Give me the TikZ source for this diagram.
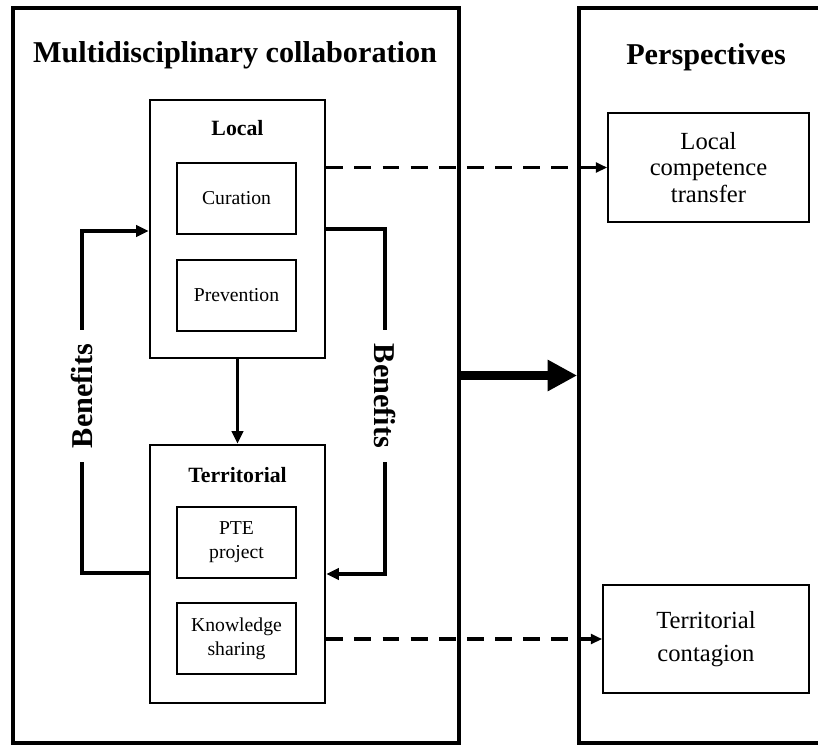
\documentclass[tikz,border=0pt]{standalone}
\usepackage{fontspec}
\setmainfont{Liberation Serif}
\usetikzlibrary{arrows.meta}

\begin{document}
\begin{tikzpicture}[x=0.025cm,y=-0.025cm]
        %
        % `outer' is used for the two big frames.
        % `level' is used for the Local and Territorial boxes.
        % `item' is used for the small boxes inside them.
        \tikzstyle{outer} = [draw,line width=2.6pt,minimum width=11.15cm,minimum height=18.375cm,inner sep=0pt]
        \tikzstyle{level} = [draw,line width=1.8pt,minimum width=4.375cm,minimum height=6.45cm,inner sep=0pt]
        \tikzstyle{item} = [draw,line width=1.2pt,minimum width=2.975cm,minimum height=1.775cm,align=center,
                            font=\fontsize{14}{17}\selectfont,inner sep=0pt]
        \tikzstyle{persp} = [draw,line width=1.2pt,align=center,inner sep=0pt]
        \tikzstyle{heading} = [font=\fontsize{21.5}{24}\selectfont\bfseries]
        \tikzstyle{subheading} = [font=\fontsize{15.5}{18}\selectfont\bfseries]
        \tikzstyle{flow} = [line width=2.5pt,-{Triangle[length=9pt,width=8pt]}]
        \tikzstyle{dashflow} = [line width=2.5pt,dash pattern=on 12pt off 8pt,-{Triangle[length=8pt,width=7pt]}]
        \tikzstyle{benefit} = [fill=white,font=\fontsize{21.5}{24}\selectfont\bfseries,inner sep=10pt]
        %
        \useasboundingbox (0,0) rectangle (818,746);
        %
        % Frames
        \node[outer] (multi) at (236,375.5) {};
        \node[outer,minimum width=6.35cm] (frame) at (706,375.5) {};
        \node[heading] (title1) at (235,55) {Multidisciplinary collaboration};
        \node[heading] (title2) at (706,57) {Perspectives};
        %
        % Local
        \node[level] (loc) at (237.5,229) {};
        \node[subheading] (loctitle) at (237.5,128) {Local};
        \node[item] (cur) at (236.5,198.5) {Curation};
        \node[item] (prev) at (236.5,295.5) {Prevention};
        %
        % Territorial
        \node[level] (terr) at (237.5,574) {};
        \node[subheading] (terrtitle) at (237.5,475) {Territorial};
        \node[item] (pte) at (236.5,542.5) {PTE\\project};
        \node[item] (know) at (236.5,638.5) {Knowledge\\sharing};
        \draw[flow] (loc.south) -- (terr.north);
        %
        % Perspectives
        \node[persp,minimum width=5.025cm,minimum height=2.725cm,font=\fontsize{17.5}{19}\selectfont]
            (comp) at (708.5,167.5) {Local\\competence\\transfer};
        \node[persp,minimum width=5.15cm,minimum height=2.7cm,font=\fontsize{17.5}{23.5}\selectfont]
            (cont) at (706,639) {Territorial\\contagion};
        %
        % Benefits loops
        \coordinate (lbot) at (82,573);
        \coordinate (ltop) at (82,231);
        \draw[flow] (terr.west |- lbot) -- (lbot) -- (ltop) -- (loc.west |- ltop);
        \node[benefit,rotate=90] (ben1) at (82,396) {Benefits};
        \coordinate (rtop) at (385,229);
        \coordinate (rbot) at (385,574);
        \draw[flow] (loc.east |- rtop) -- (rtop) -- (rbot) -- (terr.east |- rbot);
        \node[benefit,rotate=-90] (ben2) at (385,396) {Benefits};
        %
        % Dashed arrows
        \draw[dashflow] (loc.east |- comp) -- (comp.west);
        \draw[dashflow] (terr.east |- cont) -- (cont.west);
        %
        % Big arrow
        \draw[line width=7pt,-{Triangle[length=21pt,width=21pt]}] (multi.east) -- (frame.west);
        %
\end{tikzpicture}
\end{document}
